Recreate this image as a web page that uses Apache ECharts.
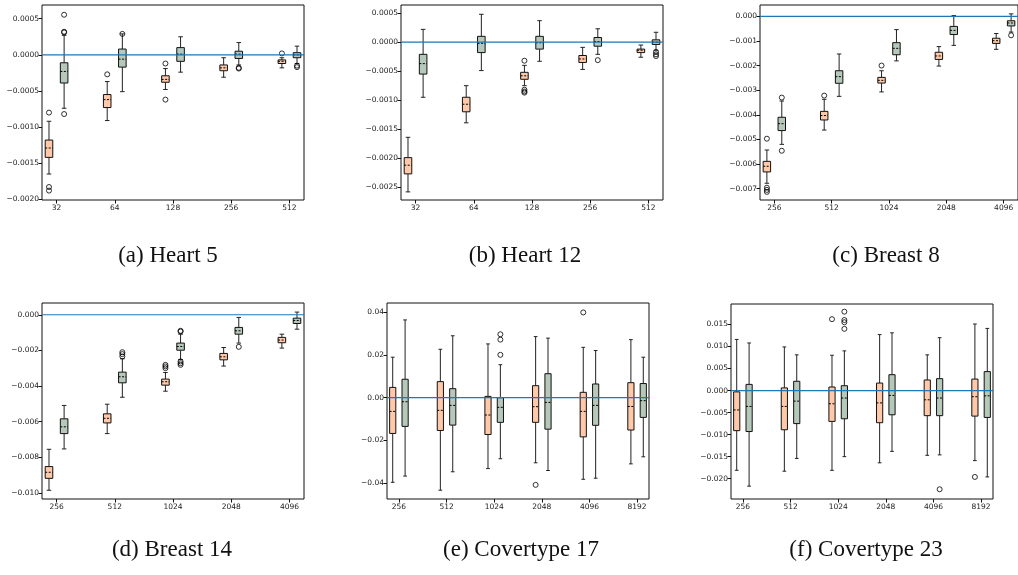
<!DOCTYPE html>
<html><head><meta charset="utf-8">
<script src="https://cdn.jsdelivr.net/npm/echarts@6/dist/echarts.min.js"></script>
<style>html,body{margin:0;padding:0;background:#fff}#c{width:1018px;height:575px}</style>
</head><body><div id="c"></div>
<script>
// ---------- DATA: each box = [lowWhisker, Q1, median, Q3, highWhisker]; outliers = [categoryIndex, value]
const heart5Cats = ['32','64','128','256','512'];
const heart5Orange = [[-0.00165,-0.00142,-0.00129,-0.00118,-0.00092],[-0.00091,-0.00073,-0.00062,-0.00055,-0.00037],[-0.00048,-0.00038,-0.00034,-0.00029,-0.00019],[-0.00031,-0.00022,-0.00018,-0.00014,-0.00004],[-0.00018,-0.00012,-0.00009,-0.00007,-0.00004]];
const heart5Gray = [[-0.00074,-0.00039,-0.00023,-0.00011,0.00027],[-0.00051,-0.00017,-0.00006,0.00008,0.00029],[-0.00024,-0.00009,0.00001,0.0001,0.00025],[-0.00014,-0.00005,0.00001,0.00005,0.00017],[-0.00012,-0.00004,0,0.00003,0.00012]];
const heart5OrangeOut = [[0,-0.0008],[0,-0.00183],[0,-0.00188],[1,-0.00027],[2,-0.00012],[2,-0.00062],[4,0.00002]];
const heart5GrayOut = [[0,0.000555],[0,0.00032],[0,0.00031],[0,-0.00082],[1,0.00029],[3,-0.00018],[3,-0.00019],[4,-0.00015],[4,-0.00017]];
const heart5YTicks = [-0.002,-0.0015,-0.001,-0.0005,0,0.0005];

const heart12Cats = ['32','64','128','256','512'];
const heart12Orange = [[-0.00258,-0.00227,-0.00212,-0.00199,-0.00164],[-0.00139,-0.0012,-0.00107,-0.00095,-0.00075],[-0.00075,-0.00064,-0.00058,-0.00052,-0.0004],[-0.00047,-0.00035,-0.00029,-0.00023,-0.00009],[-0.00026,-0.00018,-0.00014,-0.00012,-0.00005]];
const heart12Gray = [[-0.00095,-0.00055,-0.00037,-0.00021,0.00022],[-0.00049,-0.00018,-0.00002,0.0001,0.00048],[-0.00033,-0.00012,-0.00001,0.0001,0.00037],[-0.00021,-0.00007,0.00001,0.00008,0.00023],[-0.00014,-0.00004,0,0.00004,0.00017]];
const heart12OrangeOut = [[2,-0.00032],[2,-0.00082],[2,-0.00085],[2,-0.00087]];
const heart12GrayOut = [[3,-0.00031],[4,-0.00017],[4,-0.00021],[4,-0.00024]];
const heart12YTicks = [-0.0025,-0.002,-0.0015,-0.001,-0.0005,0,0.0005];

const breast8Cats = ['256','512','1024','2048','4096'];
const breast8Orange = [[-0.00678,-0.00632,-0.00609,-0.00589,-0.00543],[-0.00462,-0.00421,-0.00403,-0.00386,-0.00337],[-0.00307,-0.00271,-0.0026,-0.00248,-0.00221],[-0.00202,-0.00175,-0.00161,-0.00146,-0.00123],[-0.00134,-0.0011,-0.00099,-0.00089,-0.0007]];
const breast8Gray = [[-0.0052,-0.00464,-0.00436,-0.0041,-0.00344],[-0.00325,-0.00272,-0.00245,-0.00221,-0.00153],[-0.00181,-0.00156,-0.0013,-0.00107,-0.00054],[-0.00118,-0.00074,-0.00057,-0.00041,0.00003],[-0.00064,-0.00039,-0.00027,-0.00018,0.0001]];
const breast8OrangeOut = [[0,-0.00497],[0,-0.00696],[0,-0.00705],[0,-0.00713],[1,-0.00322],[2,-0.002]];
const breast8GrayOut = [[0,-0.0033],[0,-0.00546],[4,-0.00077]];
const breast8YTicks = [-0.007,-0.006,-0.005,-0.004,-0.003,-0.002,-0.001,0];

const breast14Cats = ['256','512','1024','2048','4096'];
const breast14Orange = [[-0.00985,-0.00918,-0.00884,-0.00852,-0.00755],[-0.00667,-0.00607,-0.00581,-0.00556,-0.00502],[-0.00429,-0.00395,-0.00376,-0.00361,-0.00324],[-0.00288,-0.00253,-0.00236,-0.00217,-0.00184],[-0.00187,-0.00157,-0.00142,-0.00127,-0.00109]];
const breast14Gray = [[-0.00753,-0.00667,-0.00629,-0.00584,-0.00509],[-0.00463,-0.00382,-0.00348,-0.00322,-0.00247],[-0.00251,-0.00199,-0.00178,-0.00159,-0.00109],[-0.00159,-0.00109,-0.0009,-0.00071,-0.00015],[-0.00081,-0.00049,-0.00032,-0.00019,0.00015]];
const breast14OrangeOut = [[2,-0.00281],[2,-0.0029],[2,-0.003]];
const breast14GrayOut = [[1,-0.0021],[1,-0.00221],[1,-0.00234],[2,-0.0009],[2,-0.00094],[2,-0.00262],[2,-0.00272],[2,-0.00281],[3,-0.0018]];
const breast14YTicks = [-0.01,-0.008,-0.006,-0.004,-0.002,0];

const cov17Cats = ['256','512','1024','2048','4096','8192'];
const cov17Orange = [[-0.0395,-0.0167,-0.0064,0.0048,0.0189],[-0.0432,-0.0153,-0.0059,0.0075,0.0226],[-0.0331,-0.0172,-0.0081,0.0006,0.0251],[-0.0304,-0.0115,-0.0042,0.0056,0.0285],[-0.0381,-0.0183,-0.0064,0.0025,0.0235],[-0.0309,-0.0151,-0.0041,0.007,0.0271]];
const cov17Gray = [[-0.0366,-0.0134,-0.0019,0.0086,0.0363],[-0.0346,-0.0128,-0.0036,0.0042,0.0289],[-0.0285,-0.0115,-0.0045,0,0.0154],[-0.034,-0.0147,-0.0022,0.0112,0.0278],[-0.0376,-0.0129,-0.0036,0.0064,0.022],[-0.0276,-0.0092,-0.0014,0.0066,0.0189]];
const cov17OrangeOut = [[3,-0.0407],[4,0.0398]];
const cov17GrayOut = [[2,0.0296],[2,0.0271],[2,0.02]];
const cov17YTicks = [-0.04,-0.02,0,0.02,0.04];

const cov23Cats = ['256','512','1024','2048','4096','8192'];
const cov23Orange = [[-0.0181,-0.0091,-0.0044,-0.0003,0.0116],[-0.0183,-0.0089,-0.0036,0.0006,0.0099],[-0.0181,-0.007,-0.003,0.0008,0.008],[-0.0164,-0.0073,-0.0028,0.0017,0.0127],[-0.0147,-0.0057,-0.0021,0.0024,0.0081],[-0.0159,-0.0058,-0.0014,0.0026,0.0151]];
const cov23Gray = [[-0.0217,-0.0093,-0.0036,0.0014,0.0108],[-0.0154,-0.0075,-0.0024,0.0021,0.0081],[-0.015,-0.0064,-0.0017,0.0011,0.009],[-0.0138,-0.0055,-0.0011,0.0036,0.0131],[-0.0146,-0.0057,-0.0017,0.0027,0.012],[-0.0196,-0.0061,-0.0012,0.0043,0.0141]];
const cov23OrangeOut = [[2,0.0162],[5,-0.0196]];
const cov23GrayOut = [[2,0.0179],[2,0.016],[2,0.0155],[2,0.014],[4,-0.0224]];
const cov23YTicks = [-0.02,-0.015,-0.01,-0.005,0,0.005,0.01,0.015];

const captions = ['(a) Heart 5','(b) Heart 12','(c) Breast 8','(d) Breast 14','(e) Covertype 17','(f) Covertype 23'];

// ---------- LAYOUT / STYLE
const ORANGE = '#ffc8a9', GRAY = '#b5c8ba', ZERO = '#1f77b4';
const OFF = 0.13, BOXW = 0.13;
const panels = [
  {cats:heart5Cats, o:heart5Orange, g:heart5Gray, oo:heart5OrangeOut, go:heart5GrayOut, ticks:heart5YTicks, dec:4, yMin:-0.00201, yMax:0.00069, grid:{left:42,top:5,width:262,height:195}, cap:[168,256]},
  {cats:heart12Cats, o:heart12Orange, g:heart12Gray, oo:heart12OrangeOut, go:heart12GrayOut, ticks:heart12YTicks, dec:4, yMin:-0.00272, yMax:0.00064, grid:{left:401,top:5,width:262,height:195}, cap:[525,256]},
  {cats:breast8Cats, o:breast8Orange, g:breast8Gray, oo:breast8OrangeOut, go:breast8GrayOut, ticks:breast8YTicks, dec:3, yMin:-0.00746, yMax:0.00046, grid:{left:760,top:5,width:263,height:195}, cap:[886,256]},
  {cats:breast14Cats, o:breast14Orange, g:breast14Gray, oo:breast14OrangeOut, go:breast14GrayOut, ticks:breast14YTicks, dec:3, yMin:-0.01034, yMax:0.00066, grid:{left:42,top:303,width:262,height:196}, cap:[172,550]},
  {cats:cov17Cats, o:cov17Orange, g:cov17Gray, oo:cov17OrangeOut, go:cov17GrayOut, ticks:cov17YTicks, dec:2, yMin:-0.0473, yMax:0.0442, grid:{left:387,top:303,width:262,height:196}, cap:[521,550]},
  {cats:cov23Cats, o:cov23Orange, g:cov23Gray, oo:cov23OrangeOut, go:cov23GrayOut, ticks:cov23YTicks, dec:3, yMin:-0.02461, yMax:0.01964, grid:{left:731,top:304,width:262,height:195}, cap:[866,550]}
];

function fmt(v, dec){ return (v < 0 ? '\u2212' : '') + Math.abs(v).toFixed(dec); }

function makeRender(color){
  return function(params, api){
    const x = api.value(0);
    const lo = api.coord([x, api.value(1)]);
    const q1 = api.coord([x, api.value(2)]);
    const md = api.coord([x, api.value(3)]);
    const q3 = api.coord([x, api.value(4)]);
    const hi = api.coord([x, api.value(5)]);
    const w = api.size([BOXW, 0])[0];
    const cw = w * 0.6;
    const cx = lo[0];
    const ls = {stroke:'#222', lineWidth:1};
    return {type:'group', children:[
      {type:'line', shape:{x1:cx,y1:q3[1],x2:cx,y2:hi[1]}, style:ls},
      {type:'line', shape:{x1:cx,y1:q1[1],x2:cx,y2:lo[1]}, style:ls},
      {type:'line', shape:{x1:cx-cw/2,y1:hi[1],x2:cx+cw/2,y2:hi[1]}, style:ls},
      {type:'line', shape:{x1:cx-cw/2,y1:lo[1],x2:cx+cw/2,y2:lo[1]}, style:ls},
      {type:'rect', shape:{x:cx-w/2,y:q3[1],width:w,height:q1[1]-q3[1]}, style:{fill:color, stroke:'#111', lineWidth:1}},
      {type:'line', shape:{x1:cx-w/2,y1:md[1],x2:cx+w/2,y2:md[1]}, style:{stroke:'#000', lineWidth:1, lineDash:[2,1.5]}}
    ]};
  };
}

const grids=[], xAxes=[], yAxes=[], series=[], graphics=[];
panels.forEach((p, i) => {
  const n = p.cats.length;
  const idx = p.cats.map((_, k) => k);
  grids.push(Object.assign({show:true, borderColor:'#111', borderWidth:1, backgroundColor:'transparent'}, p.grid));
  xAxes.push({type:'value', gridIndex:i, min:-0.25, max:n-0.75, position:'bottom',
    axisLine:{show:false, onZero:false}, splitLine:{show:false},
    axisTick:{show:true, customValues:idx, length:3.5, lineStyle:{color:'#111'}},
    axisLabel:{show:true, customValues:idx, formatter:v => p.cats[Math.round(v)], fontSize:7.5, fontFamily:'DejaVu Sans', color:'#222', margin:4}
  });
  yAxes.push({type:'value', gridIndex:i, min:p.yMin, max:p.yMax, position:'left',
    axisLine:{show:false, onZero:false}, splitLine:{show:false},
    axisTick:{show:true, customValues:p.ticks, length:3.5, lineStyle:{color:'#111'}},
    axisLabel:{show:true, customValues:p.ticks, formatter:v => fmt(v, p.dec), fontSize:7.5, fontFamily:'DejaVu Sans', color:'#222', margin:3}
  });
  const oData = p.o.map((b, k) => [k - OFF].concat(b));
  const gData = p.g.map((b, k) => [k + OFF].concat(b));
  series.push({type:'custom', xAxisIndex:i, yAxisIndex:i, renderItem:makeRender(ORANGE), data:oData, encode:{x:0, y:[1,2,3,4,5]}, z:2, silent:true});
  series.push({type:'custom', xAxisIndex:i, yAxisIndex:i, renderItem:makeRender(GRAY), data:gData, encode:{x:0, y:[1,2,3,4,5]}, z:2, silent:true});
  series.push({type:'scatter', xAxisIndex:i, yAxisIndex:i, data:p.oo.map(d => [d[0] - OFF, d[1]]), symbol:'circle', symbolSize:5,
    itemStyle:{color:'rgba(0,0,0,0)', borderColor:'#000', borderWidth:1}, z:3, silent:true});
  series.push({type:'scatter', xAxisIndex:i, yAxisIndex:i, data:p.go.map(d => [d[0] + OFF, d[1]]), symbol:'circle', symbolSize:5,
    itemStyle:{color:'rgba(0,0,0,0)', borderColor:'#000', borderWidth:1}, z:3, silent:true});
  series.push({type:'line', xAxisIndex:i, yAxisIndex:i, data:[[-0.25,0],[n-0.75,0]], symbol:'none', lineStyle:{color:ZERO, width:1.2}, z:4, silent:true});
  graphics.push({type:'text', x:p.cap[0], y:p.cap[1], style:{text:captions[i], fontSize:23, fontFamily:'Liberation Serif', fill:'#111', align:'center', verticalAlign:'middle'}});
});

const chart = echarts.init(document.getElementById('c'), null, {renderer:'canvas'});
chart.setOption({animation:false, backgroundColor:'#fff', grid:grids, xAxis:xAxes, yAxis:yAxes, series:series, graphic:graphics});
</script>
</body></html>
